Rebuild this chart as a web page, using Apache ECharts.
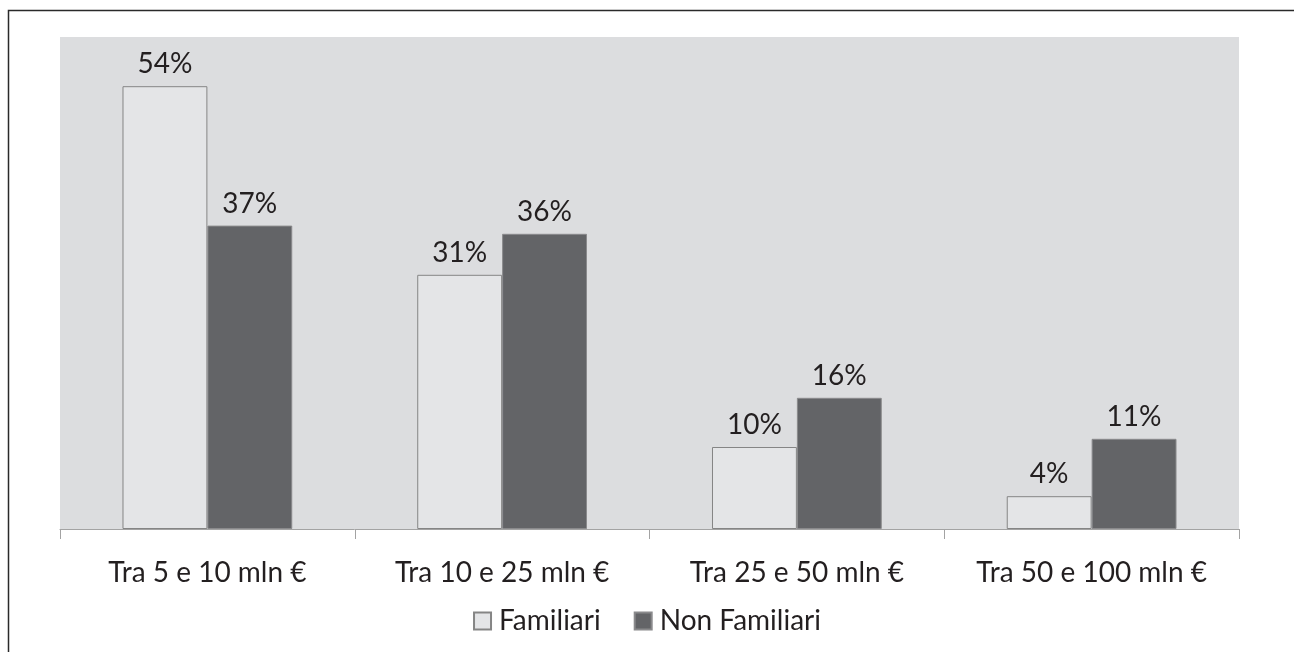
<!DOCTYPE html>
<html>
<head>
<meta charset="utf-8">
<script src="https://cdn.jsdelivr.net/npm/echarts@6/dist/echarts.min.js"></script>
<style>
html,body{margin:0;padding:0;background:#fff;}
#c{width:1294px;height:652px;}
</style>
</head>
<body>
<div id="c"></div>
<script>
const categories = ['Tra 5 e 10 mln €', 'Tra 10 e 25 mln €', 'Tra 25 e 50 mln €', 'Tra 50 e 100 mln €'];
const familiari = [54, 31, 10, 4];
const nonFamiliari = [37, 36, 16, 11];
const seriesNames = ['Familiari', 'Non Familiari'];

const FONT = 'Lato';
const FS = 28;
const chart = echarts.init(document.getElementById('c'), null, {renderer: 'canvas'});
const labelStyle = {
  show: true, position: 'top', distance: 8,
  formatter: p => p.value + '%',
  color: '#231f20', fontFamily: FONT, fontSize: FS
};
chart.setOption({
  animation: false,
  backgroundColor: '#ffffff',
  textStyle: {fontFamily: FONT},
  graphic: [{
    type: 'rect', left: 6, top: 8, z: 100, silent: true,
    shape: {x: 0, y: 0, width: 1287, height: 700},
    style: {fill: 'none', stroke: '#2a2a2a', lineWidth: 1.5}
  }],
  grid: {
    left: 60, right: 55, top: 37, bottom: 123,
    show: true, backgroundColor: '#dcdddf', borderWidth: 0
  },
  legend: {
    data: seriesNames,
    bottom: 12, left: 'center',
    itemWidth: 17, itemHeight: 17, itemGap: 33,
    icon: 'rect',
    textStyle: {color: '#231f20', fontFamily: FONT, fontSize: FS, padding: [0,0,0,3]}
  },
  xAxis: {
    type: 'category', data: categories,
    axisLine: {show: true, lineStyle: {color: '#a3a3a3', width: 1}},
    axisTick: {show: true, length: 10, lineStyle: {color: '#a3a3a3'}},
    axisLabel: {color: '#231f20', fontFamily: FONT, fontSize: FS, margin: 30, interval: 0}
  },
  yAxis: {
    type: 'value', min: 0, max: 60, interval: 10, show: false,
    splitLine: {show: false}
  },
  series: [
    {
      name: seriesNames[0], type: 'bar', data: familiari,
      barWidth: '28.8%', barGap: '0%',
      itemStyle: {color: '#e4e5e7', borderColor: '#858585', borderWidth: 1},
      label: labelStyle
    },
    {
      name: seriesNames[1], type: 'bar', data: nonFamiliari,
      barWidth: '28.8%', barGap: '0%',
      itemStyle: {color: '#636467', borderColor: '#8a8a8c', borderWidth: 1},
      label: labelStyle
    }
  ]
});
</script>
</body>
</html>
